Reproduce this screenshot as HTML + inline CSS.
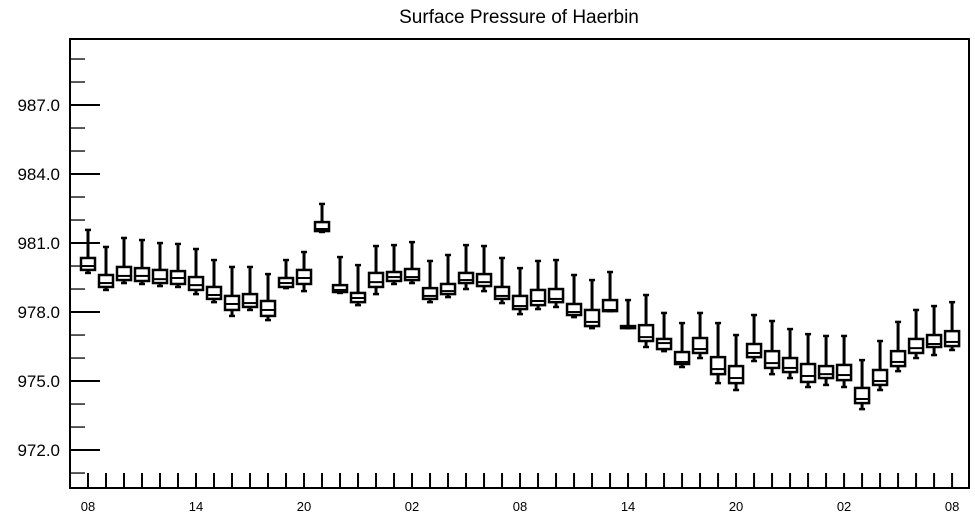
<!DOCTYPE html>
<html><head><meta charset="utf-8"><style>
body{margin:0;background:#fff;}
svg{display:block;font-family:"Liberation Sans",Arial,sans-serif;}
</style></head><body>
<svg id="chart" width="975" height="518" viewBox="0 0 975 518" xmlns="http://www.w3.org/2000/svg">
<text x="519" y="23" font-size="19" text-anchor="middle">Surface Pressure of Haerbin</text>
<g id="plot"></g>
</svg>
<script>
const whiskerTop=[981.57,980.83,981.22,981.13,981.0,980.96,980.74,980.26,979.96,979.96,979.65,980.26,980.61,982.70,980.39,980.04,980.87,980.91,981.04,980.22,980.48,980.91,980.87,980.35,979.91,980.22,980.26,979.61,979.39,979.74,978.52,978.74,977.96,977.52,977.96,977.52,977.0,977.87,977.61,977.26,977.04,976.96,976.96,975.91,976.74,977.57,978.09,978.26,978.43];
const boxTop=[980.35,979.61,979.96,979.91,979.83,979.78,979.52,979.09,978.70,978.78,978.48,979.48,979.83,981.91,979.17,978.83,979.70,979.74,979.87,979.04,979.22,979.70,979.65,979.09,978.70,978.96,979.0,978.35,978.09,978.52,977.39,977.43,976.83,976.26,976.87,976.04,975.65,976.61,976.30,976.0,975.74,975.65,975.70,974.70,975.48,976.30,976.83,977.0,977.17];
const median=[980.0,979.26,979.57,979.57,979.43,979.48,979.17,978.74,978.35,978.39,978.09,979.26,979.48,981.61,978.96,978.61,979.30,979.52,979.52,978.70,978.91,979.39,979.30,978.70,978.26,978.48,978.57,978.0,977.57,978.09,977.35,976.91,976.65,975.83,976.39,975.52,975.13,976.22,975.78,975.57,975.22,975.30,975.26,974.22,975.0,975.83,976.43,976.61,976.70];
const boxBottom=[979.83,979.09,979.39,979.35,979.26,979.22,978.96,978.57,978.09,978.22,977.83,979.09,979.22,981.52,978.87,978.43,979.09,979.35,979.39,978.57,978.78,979.26,979.13,978.57,978.13,978.30,978.43,977.87,977.39,978.04,977.30,976.74,976.39,975.74,976.22,975.30,974.91,976.04,975.57,975.39,974.96,975.13,975.04,974.04,974.83,975.65,976.22,976.48,976.52];
const whiskerBottom=[979.70,978.96,979.26,979.22,979.13,979.09,978.78,978.43,977.83,978.09,977.65,979.04,978.91,981.48,978.83,978.30,978.78,979.22,979.26,978.43,978.65,979.0,978.91,978.39,977.91,978.13,978.22,977.78,977.30,978.04,977.30,976.48,976.30,975.61,976.0,974.91,974.61,975.87,975.30,975.13,974.74,974.83,974.74,973.78,974.61,975.43,976.0,976.13,976.35];
const yTicks=[972,975,978,981,984,987];
const yTickLabels=["972.0","975.0","978.0","981.0","984.0","987.0"];
const xTickLabels=["08","14","20","02","08","14","20","02","08"];

const L=70,R=969,T=39,B=488;
const yMin=970.35,yMax=989.87,xMin=-1,xMax=48.94;
const y=v=>B-(v-yMin)/(yMax-yMin)*(B-T);
const x=i=>L+(i-xMin)/(xMax-xMin)*(R-L);
const NS="http://www.w3.org/2000/svg";
const g=document.getElementById('plot');
function mk(tag,attrs,parent){const e=document.createElementNS(NS,tag);for(const k in attrs)e.setAttribute(k,attrs[k]);(parent||g).appendChild(e);return e;}

// frame
const frame=mk('rect',{x:L,y:T,width:R-L,height:B-T,fill:'none',stroke:'#000','stroke-width':2});



// y minor ticks
for(let v=Math.ceil(yMin);v<=yMax;v+=1){
  const major=yTicks.includes(v);
  const t=mk('line',{x1:L,x2:L+(major?30:15),y1:y(v),y2:y(v),stroke:'#000','stroke-width':major?2:1.3});
  
  
}
yTicks.forEach((v,k)=>{
  const t=mk('text',{x:L-10,y:y(v)+6,'font-size':17,'text-anchor':'end'});
  t.textContent=yTickLabels[k];
  
  
});
// x ticks
for(let i=0;i<median.length;i++){
  const t=mk('line',{x1:x(i),x2:x(i),y1:B,y2:B-15,stroke:'#000','stroke-width':2});
  
  
}
xTickLabels.forEach((s,k)=>{
  const t=mk('text',{x:x(k*6),y:511,'font-size':13,'text-anchor':'middle'});
  t.textContent=s;
  
  
});
// boxes
const hw=7;
for(let i=0;i<median.length;i++){
  const bg=mk('g',{});
  
  
  const cx=x(i);
  mk('line',{x1:cx,x2:cx,y1:y(whiskerTop[i]),y2:y(boxTop[i]),stroke:'#000','stroke-width':3},bg);
  mk('line',{x1:cx-3,x2:cx+3,y1:y(whiskerTop[i]),y2:y(whiskerTop[i]),stroke:'#000','stroke-width':2.5},bg);
  mk('line',{x1:cx,x2:cx,y1:y(boxBottom[i]),y2:y(whiskerBottom[i]),stroke:'#000','stroke-width':3},bg);
  mk('line',{x1:cx-3,x2:cx+3,y1:y(whiskerBottom[i]),y2:y(whiskerBottom[i]),stroke:'#000','stroke-width':2.5},bg);
  mk('rect',{x:cx-hw,y:y(boxTop[i]),width:2*hw,height:Math.max(1,y(boxBottom[i])-y(boxTop[i])),fill:'#fff',stroke:'#000','stroke-width':2.5},bg);
  mk('line',{x1:cx-hw,x2:cx+hw,y1:y(median[i]),y2:y(median[i]),stroke:'#000','stroke-width':2},bg);
}
</script>
</body></html>
